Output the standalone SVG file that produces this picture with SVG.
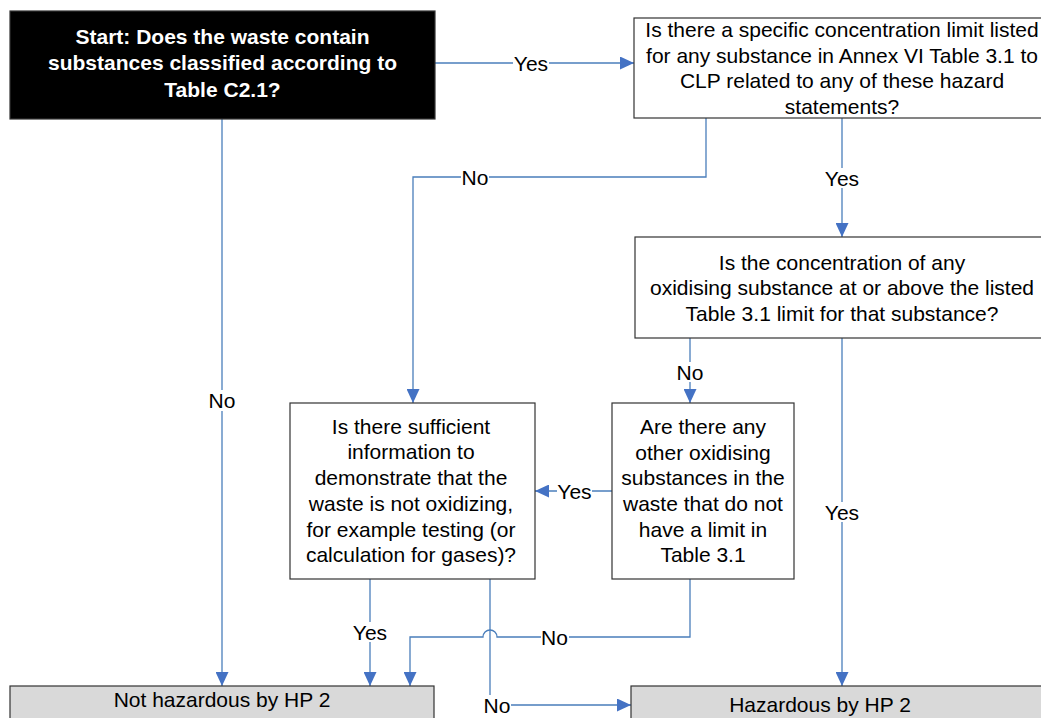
<svg xmlns="http://www.w3.org/2000/svg" width="1041" height="718" viewBox="0 0 1041 718">
<style>
.box{fill:#ffffff;stroke:#333333;stroke-width:1.2}
.dark{fill:#000000;stroke:#333333;stroke-width:1.2}
.grey{fill:#d9d9d9;stroke:#333333;stroke-width:1.2}
.t{font-family:"Liberation Sans",Arial,sans-serif;font-size:21px;fill:#000000;text-anchor:middle}
.tb{font-family:"Liberation Sans",Arial,sans-serif;font-size:21px;font-weight:bold;fill:#ffffff;text-anchor:middle}
.conn{fill:none;stroke:#4a7ebb;stroke-width:1.3}
.lbg{fill:#ffffff;stroke:none}
</style>
<defs>
<marker id="arr" markerUnits="userSpaceOnUse" markerWidth="14" markerHeight="13" refX="14" refY="6.5" orient="auto">
<path d="M0,0 L14,6.5 L0,13 z" fill="#4472c4"/>
</marker>
</defs>
<rect width="1041" height="718" fill="#ffffff"/>

<g id="connectors">
<path class="conn" d="M435,63 H634" marker-end="url(#arr)"/>
<path class="conn" d="M222,119 V686" marker-end="url(#arr)"/>
<path class="conn" d="M706,118 V177 H413 V403" marker-end="url(#arr)"/>
<path class="conn" d="M842,118 V237" marker-end="url(#arr)"/>
<path class="conn" d="M690,338 V403" marker-end="url(#arr)"/>
<path class="conn" d="M842,338 V686" marker-end="url(#arr)"/>
<path class="conn" d="M612,491 H535" marker-end="url(#arr)"/>
<path class="conn" d="M370,579 V686" marker-end="url(#arr)"/>
<path class="conn" d="M490,579 V705 H631" marker-end="url(#arr)"/>
<path class="conn" d="M690,579 V637 H497 A7,7 0 0 0 483,637 H410 V686" marker-end="url(#arr)"/>

<rect class="lbg" x="513" y="53" width="36" height="20"/>
<text class="t" x="531" y="70.5">Yes</text>
<rect class="lbg" x="461" y="167" width="28" height="20"/>
<text class="t" x="475" y="184.5">No</text>
<rect class="lbg" x="824" y="168" width="36" height="20"/>
<text class="t" x="842" y="185.5">Yes</text>
<rect class="lbg" x="208" y="390" width="28" height="21"/>
<text class="t" x="222" y="408">No</text>
<rect class="lbg" x="676" y="362" width="28" height="20"/>
<text class="t" x="690" y="379.5">No</text>
<rect class="lbg" x="824" y="502" width="36" height="20"/>
<text class="t" x="842" y="519.5">Yes</text>
<rect class="lbg" x="557" y="481" width="35" height="20"/>
<text class="t" x="574.5" y="498.5">Yes</text>
<rect class="lbg" x="352" y="622" width="36" height="20"/>
<text class="t" x="370" y="639.5">Yes</text>
<rect class="lbg" x="541" y="627" width="28" height="20"/>
<text class="t" x="554.5" y="644.5">No</text>
<rect class="lbg" x="483" y="695" width="28" height="21"/>
<text class="t" x="497" y="712.5">No</text>
</g>

<g id="start">
<rect class="dark" x="10" y="11" width="425" height="108"/>
<text class="tb" x="222.5" y="43.5">Start: Does the waste contain</text>
<text class="tb" x="222.5" y="70">substances classified according to</text>
<text class="tb" x="222.5" y="96.5">Table C2.1?</text>
</g>

<g id="q-limit">
<rect class="box" x="634" y="18" width="416" height="100"/>
<text class="t" x="842" y="37">Is there a specific concentration limit listed</text>
<text class="t" x="842" y="62.5">for any substance in Annex VI Table 3.1 to</text>
<text class="t" x="842" y="88">CLP related to any of these hazard</text>
<text class="t" x="842" y="113.5">statements?</text>
</g>

<g id="q-concentration">
<rect class="box" x="635" y="237" width="414" height="101"/>
<text class="t" x="842" y="270">Is the concentration of any</text>
<text class="t" x="842" y="295">oxidising substance at or above the listed</text>
<text class="t" x="842" y="320.5">Table 3.1 limit for that substance?</text>
</g>

<g id="q-sufficient">
<rect class="box" x="290" y="403" width="245" height="176"/>
<text class="t" x="411" y="433.5">Is there sufficient</text>
<text class="t" x="411" y="459">information to</text>
<text class="t" x="411" y="485">demonstrate that the</text>
<text class="t" x="411" y="511">waste is not oxidizing,</text>
<text class="t" x="411" y="536.5">for example testing (or</text>
<text class="t" x="411" y="562">calculation for gases)?</text>
</g>

<g id="q-other">
<rect class="box" x="612" y="403" width="182" height="176"/>
<text class="t" x="703" y="434">Are there any</text>
<text class="t" x="703" y="459.5">other oxidising</text>
<text class="t" x="703" y="485">substances in the</text>
<text class="t" x="703" y="511">waste that do not</text>
<text class="t" x="703" y="536.5">have a limit in</text>
<text class="t" x="703" y="562">Table 3.1</text>
</g>

<g id="not-hazardous">
<rect class="grey" x="10" y="686" width="424" height="40"/>
<text class="t" x="222" y="706.5">Not hazardous by HP 2</text>
</g>

<g id="hazardous">
<rect class="grey" x="631" y="686" width="430" height="40"/>
<text class="t" x="820" y="712">Hazardous by HP 2</text>
</g>
</svg>
